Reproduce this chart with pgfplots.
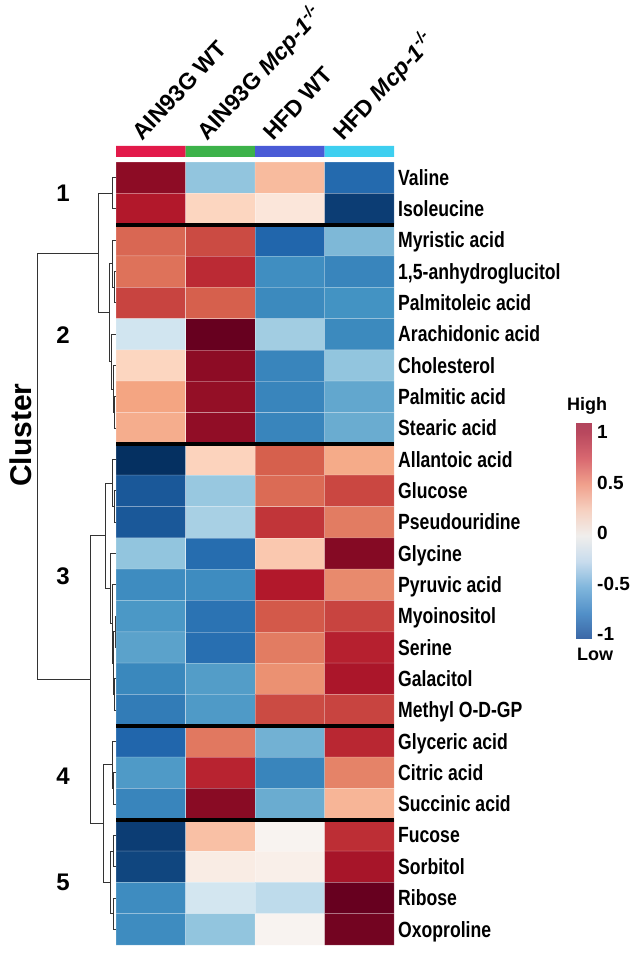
\documentclass[border=0pt]{standalone}
\usepackage{pgfplots}
\pgfplotsset{compat=1.18}
\usepackage{pgfplotstable}
\usepackage{graphicx}
\usepackage{fontspec}
\setmainfont{Liberation Sans}

\newcommand{\rl}[1]{\scalebox{0.8}[1]{#1}}
\definecolor{gA}{RGB}{226,26,74}
\definecolor{gB}{RGB}{60,178,74}
\definecolor{gC}{RGB}{74,91,214}
\definecolor{gD}{RGB}{62,207,240}

\pgfplotsset{
  colormap={rdbu}{rgb255(0cm)=(5,48,97); rgb255(1cm)=(33,102,172); rgb255(2cm)=(67,147,195); rgb255(3cm)=(146,197,222); rgb255(4cm)=(209,229,240); rgb255(5cm)=(247,247,247); rgb255(6cm)=(253,219,199); rgb255(7cm)=(244,165,130); rgb255(8cm)=(214,96,77); rgb255(9cm)=(178,24,43); rgb255(10cm)=(103,0,31)},
  colormap={cb}{rgb255(0cm)=(59,103,166); rgb255(1cm)=(82,144,200); rgb255(2cm)=(128,182,220); rgb255(3cm)=(200,220,237); rgb255(4cm)=(240,238,236); rgb255(5cm)=(246,208,192); rgb255(6cm)=(240,160,140); rgb255(7cm)=(216,104,112); rgb255(8cm)=(184,72,94); rgb255(9cm)=(168,64,92)},
  dend/.style={black!80, line width=1pt, no markers, forget plot},
}

\pgfplotstableread{
x y v
0 0 0.90
1 0 -0.40
2 0 0.32
3 0 -0.78
0 1 0.80
1 1 0.22
2 1 0.12
3 1 -0.95
0 2 0.58
1 2 0.66
2 2 -0.80
3 2 -0.45
0 3 0.55
1 3 0.75
2 3 -0.62
3 3 -0.66
0 4 0.68
1 4 0.60
2 4 -0.64
3 4 -0.60
0 5 -0.20
1 5 1.00
2 5 -0.35
3 5 -0.64
0 6 0.22
1 6 0.90
2 6 -0.66
3 6 -0.40
0 7 0.40
1 7 0.88
2 7 -0.66
3 7 -0.52
0 8 0.37
1 8 0.89
2 8 -0.66
3 8 -0.50
0 9 -1.00
1 9 0.23
2 9 0.60
3 9 0.38
0 10 -0.85
1 10 -0.38
2 10 0.57
3 10 0.67
0 11 -0.85
1 11 -0.33
2 11 0.72
3 11 0.52
0 12 -0.40
1 12 -0.77
2 12 0.27
3 12 0.92
0 13 -0.63
1 13 -0.63
2 13 0.80
3 13 0.48
0 14 -0.58
1 14 -0.74
2 14 0.62
3 14 0.68
0 15 -0.54
1 15 -0.76
2 15 0.52
3 15 0.78
0 16 -0.65
1 16 -0.56
2 16 0.46
3 16 0.82
0 17 -0.70
1 17 -0.57
2 17 0.66
3 17 0.68
0 18 -0.80
1 18 0.53
2 18 -0.48
3 18 0.76
0 19 -0.57
1 19 0.77
2 19 -0.66
3 19 0.50
0 20 -0.66
1 20 0.91
2 20 -0.50
3 20 0.34
0 21 -0.95
1 21 0.30
2 21 0.03
3 21 0.74
0 22 -0.92
1 22 0.08
2 22 0.06
3 22 0.83
0 23 -0.63
1 23 -0.19
2 23 -0.26
3 23 1.00
0 24 -0.63
1 24 -0.40
2 24 0.03
3 24 0.97
}\hm

\begin{document}
\begin{tikzpicture}
% ---------------- dendrogram ----------------
\begin{axis}[at={(0pt,19pt)}, anchor=south west, scale only axis,
  width=116pt, height=783pt, xmin=0, xmax=116, ymin=-0.5, ymax=24.5,
  y dir=reverse, hide axis, clip=false]
% cluster 1
\addplot[dend] coordinates {(116,0) (112,0) (112,1) (116,1)};
% cluster 2
\addplot[dend] coordinates {(116,3) (114,3) (114,4) (116,4)};
\addplot[dend] coordinates {(116,2) (112,2) (112,3.5) (114,3.5)};
\addplot[dend] coordinates {(116,7) (114,7) (114,8) (116,8)};
\addplot[dend] coordinates {(116,6) (113,6) (113,7.5) (114,7.5)};
\addplot[dend] coordinates {(116,5) (111,5) (111,6.75) (113,6.75)};
\addplot[dend] coordinates {(112,2.75) (109,2.75) (109,5.875) (111,5.875)};
\addplot[dend] coordinates {(112,0.5) (98,0.5) (98,4.3125) (109,4.3125)};
% cluster 3
\addplot[dend] coordinates {(116,10) (114,10) (114,11) (116,11)};
\addplot[dend] coordinates {(116,9) (112,9) (112,10.5) (114,10.5)};
\addplot[dend] coordinates {(116,14) (115,14) (115,15) (116,15)};
\addplot[dend] coordinates {(116,16) (114,16) (114,17) (116,17)};
\addplot[dend] coordinates {(115,14.5) (113,14.5) (113,16.5) (114,16.5)};
\addplot[dend] coordinates {(116,13) (112,13) (112,15.5) (113,15.5)};
\addplot[dend] coordinates {(116,12) (110,12) (110,14.25) (112,14.25)};
\addplot[dend] coordinates {(112,9.75) (105,9.75) (105,13.125) (110,13.125)};
% cluster 4
\addplot[dend] coordinates {(116,19) (113,19) (113,20) (116,20)};
\addplot[dend] coordinates {(116,18) (112,18) (112,19.5) (113,19.5)};
% cluster 5
\addplot[dend] coordinates {(116,21) (113,21) (113,22) (116,22)};
\addplot[dend] coordinates {(116,23) (113,23) (113,24) (116,24)};
\addplot[dend] coordinates {(113,21.5) (110,21.5) (110,23.5) (113,23.5)};
% upper merges
\addplot[dend] coordinates {(112,18.75) (103,18.75) (103,22.5) (110,22.5)};
\addplot[dend] coordinates {(105,11.4375) (90,11.4375) (90,20.625) (103,20.625)};
\addplot[dend] coordinates {(98,2.40625) (37,2.40625) (37,16.03125) (90,16.03125)};
% labels
\begin{scope}[every node/.style={font=\bfseries\fontsize{24}{24}\selectfont, inner sep=0pt}]
\node at (axis cs:63,0.49) {1};
\node at (axis cs:63,5.03) {2};
\node at (axis cs:63,12.73) {3};
\node at (axis cs:63,19.1) {4};
\node at (axis cs:63,22.5) {5};
\end{scope}
\node[rotate=90, font=\bfseries\fontsize{30}{30}\selectfont, inner sep=0pt] at (axis cs:21,8.22) {Cluster};
\end{axis}

% ---------------- heatmap ----------------
\begin{axis}[at={(116pt,19pt)}, anchor=south west, scale only axis,
  width=278pt, height=783pt, xmin=-0.5, xmax=3.5, ymin=-0.5, ymax=24.5,
  y dir=reverse, clip=false, axis line style={draw=none},
  xtick=\empty, ytick={0,...,24}, major tick length=0pt,
  yticklabel pos=right, typeset ticklabels with strut,
  yticklabel style={anchor=west, inner sep=0pt, xshift=4pt, yshift=-3pt,
    font=\bfseries\fontsize{22}{22}\selectfont},
  yticklabels={\rl{Valine},\rl{Isoleucine},\rl{Myristic acid},\rl{1,5-anhydroglucitol},\rl{Palmitoleic acid},\rl{Arachidonic acid},\rl{Cholesterol},\rl{Palmitic acid},\rl{Stearic acid},\rl{Allantoic acid},\rl{Glucose},\rl{Pseudouridine},\rl{Glycine},\rl{Pyruvic acid},\rl{Myoinositol},\rl{Serine},\rl{Galacitol},\rl{Methyl O-D-GP},\rl{Glyceric acid},\rl{Citric acid},\rl{Succinic acid},\rl{Fucose},\rl{Sorbitol},\rl{Ribose},\rl{Oxoproline}},
  colormap name=rdbu, point meta min=-1, point meta max=1]
\addplot[matrix plot*, mesh/cols=4, point meta=explicit, draw=white, draw opacity=0.3, line width=0.5pt]
  table[x=x, y=y, meta=v] {\hm};
% cluster separators
\addplot[black, line width=4pt, no markers] coordinates {(-0.5,1.5) (3.5,1.5)};
\addplot[black, line width=4pt, no markers] coordinates {(-0.5,8.5) (3.5,8.5)};
\addplot[black, line width=4pt, no markers] coordinates {(-0.5,17.5) (3.5,17.5)};
\addplot[black, line width=4pt, no markers] coordinates {(-0.5,20.5) (3.5,20.5)};
% group colour bar
\addplot[draw=none, fill=gA] coordinates {(-0.5,-1.011) (0.5,-1.011) (0.5,-0.661) (-0.5,-0.661) (-0.5,-1.011)};
\addplot[draw=none, fill=gB] coordinates {(0.5,-1.011) (1.5,-1.011) (1.5,-0.661) (0.5,-0.661) (0.5,-1.011)};
\addplot[draw=none, fill=gC] coordinates {(1.5,-1.011) (2.5,-1.011) (2.5,-0.661) (1.5,-0.661) (1.5,-1.011)};
\addplot[draw=none, fill=gD] coordinates {(2.5,-1.011) (3.5,-1.011) (3.5,-0.661) (2.5,-0.661) (2.5,-1.011)};
% column labels
\begin{scope}[every node/.style={rotate=47, anchor=base west, inner sep=0pt, font=\bfseries\fontsize{23}{23}\selectfont}]
\node at (axis cs:-0.12,-1.15) {AIN93G WT};
\node at (axis cs:0.81,-1.15) {AIN93G \textit{Mcp-1}\textsuperscript{\textit{-/-}}};
\node at (axis cs:1.76,-1.15) {HFD WT};
\node at (axis cs:2.77,-1.15) {HFD \textit{Mcp-1}\textsuperscript{\textit{-/-}}};
\end{scope}
\end{axis}

% ---------------- colour bar ----------------
\begin{axis}[at={(576pt,325pt)}, anchor=south west, scale only axis,
  width=15pt, height=216pt, xmin=0, xmax=1, ymin=-1.05, ymax=1.09,
  axis line style={draw=none}, xtick=\empty, major tick length=0pt,
  ytick={-1,-0.5,0,0.5,1}, yticklabels={-1,-0.5,0,0.5,1},
  yticklabel pos=right,
  yticklabel style={anchor=west, inner sep=0pt, xshift=6pt,
    font=\bfseries\fontsize{19}{19}\selectfont},
  colormap name=cb, point meta min=-1, point meta max=1.25, clip=false]
\addplot[surf, shader=interp, point meta=y] coordinates {
(0,-1.05) (1,-1.05)

(0,1.09) (1,1.09)
};
\node[anchor=south west, inner sep=0pt, font=\bfseries\fontsize{18}{18}\selectfont] at (rel axis cs:0,1) [xshift=-9pt, yshift=8pt] {High};
\node[anchor=north west, inner sep=0pt, font=\bfseries\fontsize{18}{18}\selectfont] at (rel axis cs:0,0) [xshift=1pt, yshift=-9pt] {Low};
\end{axis}

\pgfresetboundingbox
\useasboundingbox (0,0) rectangle (639pt,964pt);
\end{tikzpicture}
\end{document}
